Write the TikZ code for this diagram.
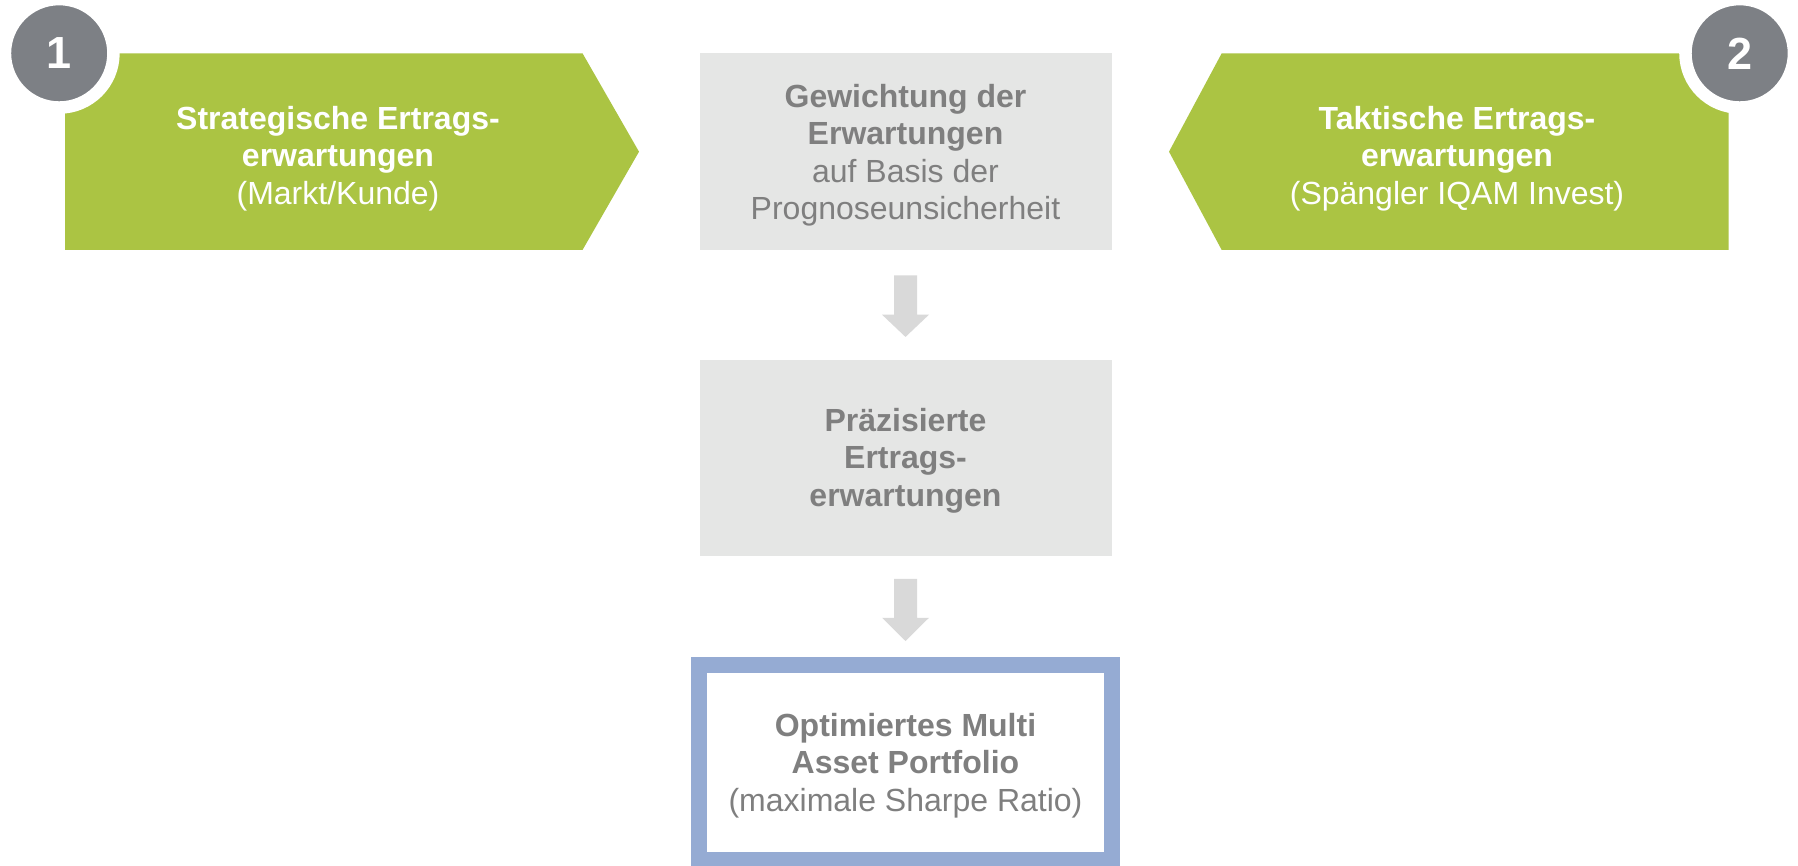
\documentclass[tikz,border=0pt]{standalone}
\usepackage{fontspec}
\setmainfont{Liberation Sans}
\usetikzlibrary{calc}
\definecolor{grn}{RGB}{171,196,67}
\definecolor{circgray}{RGB}{125,128,133}
\definecolor{boxgray}{RGB}{229,230,229}
\definecolor{arrgray}{RGB}{217,217,217}
\definecolor{bordblue}{RGB}{149,171,211}
\definecolor{txtgray}{RGB}{127,127,127}
\newcommand\bodyfont{\fontsize{32}{37.5}\selectfont}
\newcommand\numfont{\fontsize{45}{45}\selectfont\bfseries}
\begin{document}
\begin{tikzpicture}[x=1pt,y=-1pt,
  every node/.style={inner sep=0pt, outer sep=0pt},
  greentext/.style={text=white, align=center, font=\bodyfont},
  graybox/.style={fill=boxgray, minimum width=412pt, minimum height=196.5pt},
  boxtext/.style={text=txtgray, align=center, font=\bodyfont},
  resultbox/.style={draw=bordblue, line width=16pt, fill=white, minimum width=413pt, minimum height=195.3pt},
  numcirc/.style={circle, fill=circgray, draw=white, line width=12.5pt, minimum size=108.5pt, text=white, font=\numfont},
  blockarrow/.style={fill=arrgray},
  greenshape/.style={fill=grn}
]
\useasboundingbox (0,0) rectangle (1798,866);
\fill[white] (0,0) rectangle (1798,866);

% left green pentagon
\fill[greenshape] (65,53.3) -- (582.5,53.3) -- (639,151.7) -- (582.5,250) -- (65,250) -- cycle;
\node[greentext] (s1) at (338,158.5) {\textbf{Strategische Ertrags-}\\\textbf{erwartungen}\\(Markt/Kunde)};

% right green pentagon
\fill[greenshape] (1728.7,53.3) -- (1221.7,53.3) -- (1169,151.7) -- (1221.7,250) -- (1728.7,250) -- cycle;
\node[greentext] (s2) at (1457,158.5) {\textbf{Taktische Ertrags-}\\\textbf{erwartungen}\\(Spängler IQAM Invest)};

% number circles
\node[numcirc] (n1) at (59.2,53.3) {1};
\node[numcirc] (n2) at (1739.7,53.3) {2};

% centre column
\node[graybox] (g1) at (905.5,151.7) {};
\node[boxtext] (t1) at ($(g1.center)+(0,3.5)$) {\textbf{Gewichtung der}\\\textbf{Erwartungen}\\auf Basis der\\Prognoseunsicherheit};
\node[graybox] (g2) at (905.5,458) {};
\node[boxtext] (t2) at ($(g2.center)+(0,2.5)$) {\textbf{Präzisierte}\\\textbf{Ertrags-}\\\textbf{erwartungen}};
\node[resultbox] (g3) at (905.5,762.35) {};
\node[boxtext] (t3) at ($(g3.center)+(0,3)$) {\textbf{Optimiertes Multi}\\\textbf{Asset Portfolio}\\(maximale Sharpe Ratio)};

% block arrows
\fill[blockarrow] ($(g1.south)+(-11.5,25.5)$) -- ($(g1.south)+(11.5,25.5)$) -- ($(g1.south)+(11.5,64.7)$) -- ($(g1.south)+(23.5,64.7)$) -- ($(g2.north)+(0,-22.8)$) -- ($(g1.south)+(-23.5,64.7)$) -- ($(g1.south)+(-11.5,64.7)$) -- cycle;
\fill[blockarrow] ($(g2.south)+(-11.5,22.6)$) -- ($(g2.south)+(11.5,22.6)$) -- ($(g2.south)+(11.5,61.5)$) -- ($(g2.south)+(23.5,61.5)$) -- ($(g3.north)+(0,-23.7)$) -- ($(g2.south)+(-23.5,61.5)$) -- ($(g2.south)+(-11.5,61.5)$) -- cycle;
\end{tikzpicture}
\end{document}
